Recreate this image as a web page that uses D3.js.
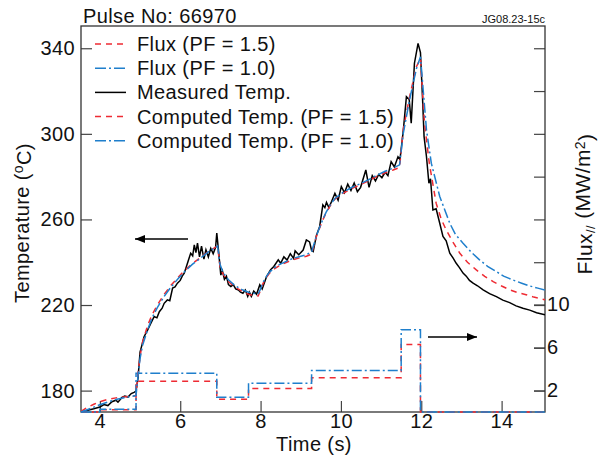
<!DOCTYPE html>
<meta charset="UTF-8">
<script src="https://d3js.org/d3.v7.min.js"></script>
<style>
  body { margin: 0; background: #fff; }
  text { font-family: "Liberation Sans", Arial, sans-serif; fill: #111; }
</style>
<div id="chart"></div>
<script>

  // Measured temperature [time (s), temp (C)]
  const measured = [
    [3.53,170.0],[3.70,170.8],[3.85,171.5],[4.00,172.3],[4.10,173.5],[4.20,173.0],[4.30,174.8],
    [4.40,175.5],[4.45,174.6],[4.55,176.8],[4.62,177.5],[4.70,177.0],[4.78,178.6],[4.85,179.2],
    [4.90,179.8],[4.95,186],[5.00,198],[5.05,201.5],[5.10,205.2],[5.19,208.4],[5.27,211.5],
    [5.35,214.6],[5.42,214.0],[5.48,216.9],[5.55,218.5],[5.60,220.8],[5.68,222.4],[5.74,222.0],
    [5.81,227.9],[5.87,228.5],[5.93,230.2],[6.00,231.5],[6.05,233.5],[6.10,234.9],[6.18,239.5],
    [6.26,244.2],[6.31,243],[6.35,248.1],[6.39,244.5],[6.43,248.9],[6.48,242.5],[6.53,247.5],
    [6.59,241.5],[6.64,245.8],[6.70,242.5],[6.76,246.5],[6.82,244],[6.88,247],[6.91,253.6],
    [6.95,246],[7.01,234],[7.05,236],[7.10,232],[7.15,233.5],[7.20,229.5],[7.26,228.6],
    [7.32,229.5],[7.38,227.5],[7.45,227],[7.50,226],[7.56,225.5],[7.62,227],[7.68,224],
    [7.72,226],[7.77,224],[7.83,226.5],[7.90,225],[7.98,229.4],[8.04,227.5],[8.15,233.3],
    [8.25,236.5],[8.33,238],[8.44,241.1],[8.50,239.5],[8.58,242.5],[8.66,241],[8.74,244],
    [8.82,241.8],[8.86,245.3],[8.95,243.5],[9.06,245.7],[9.14,250.4],[9.22,249.5],[9.27,245.5],
    [9.31,245],[9.39,252.5],[9.47,256.6],[9.55,266.8],[9.60,265.5],[9.64,268],[9.70,265.5],
    [9.77,268.5],[9.85,272.2],[9.93,269],[10.01,275.3],[10.09,272.5],[10.17,276.5],[10.25,273.5],
    [10.33,277],[10.41,273],[10.49,275],[10.62,283.1],[10.70,275],[10.78,280.5],[10.86,278],
    [10.94,281],[11.02,279.5],[11.10,282],[11.17,280.5],[11.25,287],[11.33,284.5],[11.42,289.3],
    [11.47,288],[11.55,301],[11.63,317.4],[11.70,316],[11.75,305],[11.83,333],[11.92,342.3],
    [11.98,338],[12.03,317.4],[12.07,298.7],[12.13,289.3],[12.19,276.9],[12.23,279],[12.29,264.4],
    [12.37,265],[12.46,258.2],[12.54,252],[12.62,250],[12.71,244.2],[12.79,242],[12.87,239.5],
    [12.95,237.5],[13.04,234.9],[13.12,233.5],[13.20,231.5],[13.29,230.2],[13.40,229],
    [13.54,227.1],[13.70,225.3],[13.87,223.9],[14.03,222.3],[14.20,221.1],[14.36,219.6],
    [14.53,218.5],[14.70,217.6],[14.87,216.4],[15.08,215.4]
  ];

  // Computed temperature, PF = 1.5
  const computed15 = [
    [3.53,170.3],[3.70,172.3],[3.85,173.6],[4.00,174.8],[4.20,175.9],[4.40,176.6],[4.60,177.0],
    [4.90,177.6],[4.95,188],[5.00,196],[5.06,202.5],[5.19,210.5],[5.30,215.5],[5.43,220],
    [5.60,225],[5.77,229.2],[5.95,233],[6.10,236],[6.30,239.3],[6.51,242.3],[6.70,245],
    [6.93,247.6],[6.99,238],[7.05,235],[7.11,233.3],[7.20,231],[7.32,229],[7.44,227.5],
    [7.56,226.2],[7.70,225],[7.81,224.5],[7.94,224.2],[8.00,227],[8.06,230],[8.15,233],
    [8.23,235],[8.35,237],[8.48,238.5],[8.65,240],[8.81,241.2],[9.00,242.2],[9.14,242.8],
    [9.27,243.8],[9.33,248],[9.39,252],[9.47,256],[9.55,259.8],[9.63,263],[9.72,266],
    [9.85,269.5],[10.05,272.2],[10.25,274.3],[10.47,276.1],[10.68,278],[10.88,280],[11.10,281.8],
    [11.30,283.1],[11.46,284.3],[11.55,301.8],[11.71,317.4],[11.88,331.4],[11.98,335.3],
    [12.08,305],[12.20,286.3],[12.37,267.6],[12.50,260],[12.62,255.1],[12.80,249],[12.96,244.2],
    [13.15,240],[13.37,236.4],[13.58,233.4],[13.79,230.9],[14.00,228.9],[14.20,227.1],
    [14.40,225.8],[14.61,224.8],[14.80,223.7],[15.08,222.4]
  ];

  // Computed temperature, PF = 1.0
  const computed10 = [
    [3.53,170.0],[3.70,171.2],[3.85,172.3],[4.00,173.4],[4.20,174.7],[4.40,175.8],[4.60,176.7],
    [4.90,177.7],[4.95,187],[5.00,195],[5.06,201],[5.19,208.5],[5.30,214],[5.43,218.8],
    [5.60,224],[5.77,228.4],[5.95,232.4],[6.10,235.4],[6.30,239],[6.51,242],[6.70,244.8],
    [6.93,247.6],[6.99,239],[7.05,236],[7.11,234],[7.20,231.8],[7.32,229.8],[7.44,228.2],
    [7.56,227],[7.70,226],[7.81,225.5],[7.94,225.2],[8.00,227.5],[8.06,230.5],[8.15,233.5],
    [8.23,235.5],[8.35,237.5],[8.48,239],[8.65,240.5],[8.81,241.8],[9.00,242.8],[9.14,243.5],
    [9.27,244.8],[9.33,248.5],[9.39,252.3],[9.47,256.3],[9.55,260],[9.63,263.3],[9.72,266.3],
    [9.85,269.8],[10.05,272.6],[10.25,274.8],[10.47,276.6],[10.68,278.5],[10.88,280.5],
    [11.10,282.5],[11.30,284],[11.46,285.5],[11.55,300],[11.71,316],[11.88,330.5],[11.98,336],
    [12.13,301.8],[12.25,286.3],[12.46,270.7],[12.71,258.2],[12.85,253],[13.04,248.9],
    [13.25,244.6],[13.45,241.1],[13.65,238.1],[13.87,235.6],[14.05,233.5],[14.28,231.7],
    [14.50,230.2],[14.70,228.9],[14.90,227.9],[15.08,227.0]
  ];

  // Flux steps (MW/m2)
  const stepTimes = [3.53, 4.0, 4.9, 6.91, 7.70, 9.27, 11.5, 11.98, 15.08];
  const flux15 = [0, 0.2, 2.87, 1.19, 2.19, 3.18, 6.28, 0, 0];
  const flux10 = [0, 0.25, 3.6, 1.38, 2.68, 3.86, 7.65, 0, 0];

  // Ticks
  const timeTicks = [4, 6, 8, 10, 12, 14];
  const tempTicks = [180, 220, 260, 300, 340];
  const tempRightTicks = [180, 200, 220, 240, 260, 280, 300, 320, 340];
  const fluxTicks = [2, 6, 10];

  const red = "#ee2b33", blue = "#1f7fcc";

  // Dimensions
  const margin = {top: 26, right: 55, bottom: 45, left: 81},
        width = 600 - margin.left - margin.right,
        height = 457 - margin.top - margin.bottom;

  const root = d3.select("#chart")
    .append("svg")
    .attr("width", 600)
    .attr("height", 457);

  const svg = root.append("g")
    .attr("transform", `translate(${margin.left},${margin.top})`);

  const x = d3.scaleLinear().domain([3.53, 15.08]).range([0, width]);
  const y = d3.scaleLinear().domain([170, 350.4]).range([height, 0]);
  const yFlux = d3.scaleLinear().domain([0, 35.9]).range([height, 0]);

  svg.append("clipPath").attr("id", "clip")
    .append("rect").attr("x", 0).attr("y", -2).attr("width", width).attr("height", height + 4);

  // Axes
  function styleAxis(g) {
    g.select(".domain").remove();
    g.selectAll(".tick line").attr("stroke", "#444").attr("stroke-width", 1.2);
    g.selectAll("text").style("font-size", "20px").style("letter-spacing", "0.4px").attr("fill", "#111");
  }

  svg.append("g")
    .call(d3.axisLeft(y).tickValues(tempTicks).tickSize(-11).tickPadding(6))
    .call(styleAxis);

  svg.append("g")
    .attr("transform", `translate(0,${height})`)
    .call(d3.axisBottom(x).tickValues(timeTicks).tickSize(-11).tickPadding(2).tickFormat(d3.format("d")))
    .call(styleAxis);

  svg.append("g")
    .attr("transform", `translate(${width},0)`)
    .call(d3.axisRight(y).tickValues(tempRightTicks).tickSize(-11).tickFormat(""))
    .call(styleAxis);

  svg.append("g")
    .attr("transform", `translate(${width},0)`)
    .call(d3.axisRight(yFlux).tickValues(fluxTicks).tickSize(-11).tickPadding(2))
    .call(styleAxis);

  // Frame
  svg.append("rect")
    .attr("width", width).attr("height", height)
    .attr("fill", "none").attr("stroke", "#333").attr("stroke-width", 1.3);

  // Lines
  const line = d3.line().x(d => x(d[0])).y(d => y(d[1]));
  const stepLine = d3.line().curve(d3.curveStepAfter).x(d => x(d[0])).y(d => yFlux(d[1]));

  const plot = svg.append("g").attr("clip-path", "url(#clip)");

  plot.append("path").datum(measured)
    .attr("d", line).attr("fill", "none").attr("stroke", "#000").attr("stroke-width", 1.5);

  plot.append("path").datum(stepTimes.map((t, i) => [t, flux15[i]]))
    .attr("d", stepLine).attr("fill", "none").attr("stroke", red)
    .attr("stroke-width", 1.5).attr("stroke-dasharray", "6,5");

  plot.append("path").datum(stepTimes.map((t, i) => [t, flux10[i]]))
    .attr("d", stepLine).attr("fill", "none").attr("stroke", blue)
    .attr("stroke-width", 1.5).attr("stroke-dasharray", "10,3,2,3");

  plot.append("path").datum(computed15)
    .attr("d", line).attr("fill", "none").attr("stroke", red)
    .attr("stroke-width", 1.5).attr("stroke-dasharray", "6,5");

  plot.append("path").datum(computed10)
    .attr("d", line).attr("fill", "none").attr("stroke", blue)
    .attr("stroke-width", 1.5).attr("stroke-dasharray", "10,3,2,3");

  // Arrows
  root.append("defs").append("marker")
    .attr("id", "head").attr("viewBox", "0 0 10 8")
    .attr("refX", 10).attr("refY", 4)
    .attr("markerWidth", 10).attr("markerHeight", 8)
    .attr("markerUnits", "userSpaceOnUse").attr("orient", "auto")
    .append("path").attr("d", "M0,0L10,4L0,8Z").attr("fill", "#000");

  root.append("line")
    .attr("x1", 188).attr("y1", 239).attr("x2", 135).attr("y2", 239)
    .attr("stroke", "#000").attr("stroke-width", 1.6).attr("marker-end", "url(#head)");

  root.append("line")
    .attr("x1", 428).attr("y1", 337).attr("x2", 477).attr("y2", 337)
    .attr("stroke", "#000").attr("stroke-width", 1.6).attr("marker-end", "url(#head)");

  // Legend
  const legendItems = [
    {label: "Flux (PF = 1.5)", color: red, dash: "6,5"},
    {label: "Flux (PF = 1.0)", color: blue, dash: "11,3,2,3"},
    {label: "Measured Temp.", color: "#000", dash: null},
    {label: "Computed Temp. (PF = 1.5)", color: red, dash: "6,5"},
    {label: "Computed Temp. (PF = 1.0)", color: blue, dash: "11,3,2,3"}
  ];

  const legend = root.append("g");

  legend.selectAll("line")
    .data(legendItems)
    .join("line")
    .attr("x1", 95).attr("x2", 126)
    .attr("y1", (d, i) => 44 + i * 24.2).attr("y2", (d, i) => 44 + i * 24.2)
    .attr("stroke", d => d.color).attr("stroke-width", 1.5)
    .attr("stroke-dasharray", d => d.dash);

  legend.selectAll("text")
    .data(legendItems)
    .join("text")
    .attr("x", 137)
    .attr("y", (d, i) => 44 + i * 24.2)
    .attr("dy", "0.35em")
    .style("font-size", "20px")
    .style("letter-spacing", "0.4px")
    .text(d => d.label);

  // Titles
  root.append("text")
    .attr("x", 83).attr("y", 23)
    .style("font-size", "20px")
    .style("letter-spacing", "0.4px")
    .text("Pulse No: 66970");

  root.append("text")
    .attr("x", 545).attr("y", 23)
    .attr("text-anchor", "end")
    .style("font-size", "11px")
    .text("JG08.23-15c");

  root.append("text")
    .attr("x", 314).attr("y", 451)
    .attr("text-anchor", "middle")
    .style("font-size", "20px")
    .style("letter-spacing", "0.4px")
    .text("Time (s)");

  const yLabel = root.append("text")
    .attr("transform", "translate(29,223) rotate(-90)")
    .attr("text-anchor", "middle")
    .style("font-size", "20px")
    .style("letter-spacing", "0.4px");
  yLabel.append("tspan").text("Temperature (");
  yLabel.append("tspan").attr("dy", "-0.4em").style("font-size", "14px").text("o");
  yLabel.append("tspan").attr("dy", "0.4em").text("C)");

  const fLabel = root.append("text")
    .attr("transform", "translate(592,204) rotate(-90)")
    .attr("text-anchor", "middle")
    .style("font-size", "21px")
    .style("letter-spacing", "0.4px");
  fLabel.append("tspan").text("Flux");
  fLabel.append("tspan").attr("dy", "0.2em").style("font-size", "13px").text("//");
  fLabel.append("tspan").attr("dy", "-0.2em").text(" (MW/m");
  fLabel.append("tspan").attr("dy", "-0.4em").style("font-size", "14px").text("2");
  fLabel.append("tspan").attr("dy", "0.4em").text(")");

</script>
